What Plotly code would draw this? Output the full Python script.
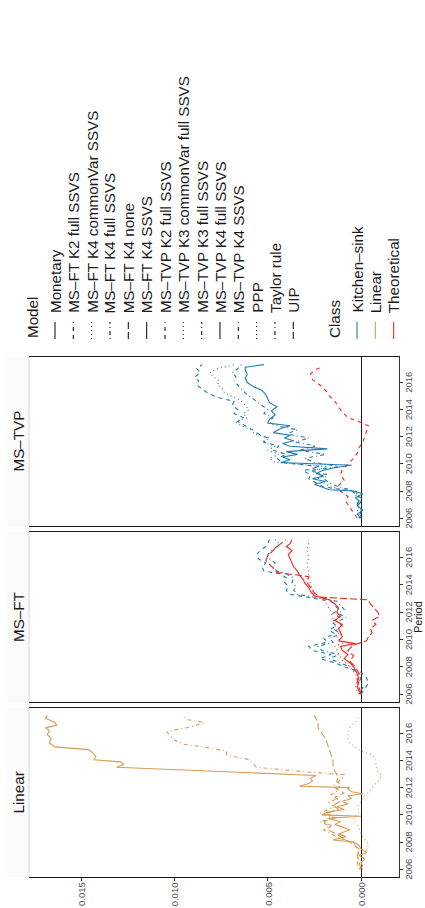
import plotly.graph_objects as go

# ---------------- data ----------------
# Linear panel (class: Linear)
LIN_MONETARY_T = [2006.0, 2006.25, 2006.5, 2006.75, 2007.0, 2007.25, 2007.5, 2007.75, 2008.0, 2008.15, 2008.4, 2008.6, 2008.9, 2009.1, 2009.3, 2009.5, 2009.75, 2009.9, 2010.0, 2010.2, 2010.4, 2010.6, 2010.8, 2011.0, 2011.2, 2011.4, 2011.55, 2011.7, 2011.9, 2012.0, 2012.1, 2012.3, 2012.5, 2012.7, 2012.9, 2013.5, 2013.7, 2013.9, 2014.05, 2014.3, 2014.6, 2014.8, 2015.0, 2015.3, 2015.6, 2015.9, 2016.2, 2016.4, 2016.6, 2016.8, 2017.1, 2017.3]
LIN_MONETARY_V = [0.0001, -0.0001, 0.0000, -0.0002, 0.0001, -0.0003, 0.0000, 0.0001, 0.0004, 0.0015, 0.0008, 0.0012, 0.0006, 0.0010, 0.0014, 0.0011, 0.0018, 0.0000, 0.0021, 0.0018, 0.0009, 0.0013, 0.0007, 0.0010, 0.0005, 0.0007, -0.0001, 0.0005, 0.0007, 0.0006, 0.0033, 0.0028, 0.0026, 0.0027, 0.0024, 0.0131, 0.0127, 0.0129, 0.0143, 0.0142, 0.0144, 0.0146, 0.0164, 0.0167, 0.0166, 0.0168, 0.0167, 0.0169, 0.0163, 0.0164, 0.0169, 0.0168]

LIN_TAYLOR_T = [2006.0, 2006.5, 2007.0, 2007.5, 2008.0, 2008.3, 2008.6, 2008.9, 2009.2, 2009.5, 2009.8, 2010.1, 2010.3, 2010.6, 2010.9, 2011.2, 2011.5, 2011.8, 2012.1, 2012.4, 2012.7, 2012.95, 2013.2, 2013.5, 2013.8, 2014.1, 2014.4, 2014.7, 2015.0, 2015.2, 2015.5, 2015.8, 2016.1, 2016.3, 2016.5, 2016.8, 2017.0, 2017.3]
LIN_TAYLOR_V = [0.0001, 0.0002, 0.0001, 0.0002, 0.0004, 0.0012, 0.0016, 0.0020, 0.0017, 0.0022, 0.0014, 0.0022, 0.0019, 0.0014, 0.0017, 0.0013, 0.0016, 0.0012, 0.0015, 0.0013, 0.0010, 0.0009, 0.0033, 0.0056, 0.0058, 0.0061, 0.0072, 0.0072, 0.0085, 0.0095, 0.0100, 0.0102, 0.0104, 0.0098, 0.0090, 0.0084, 0.0093, 0.0095]

LIN_UIP_T = [2006.0, 2006.5, 2007.0, 2007.5, 2008.0, 2008.3, 2008.6, 2008.9, 2009.2, 2009.5, 2009.8, 2010.1, 2010.4, 2010.7, 2011.0, 2011.3, 2011.6, 2011.9, 2012.2, 2012.5, 2012.8, 2013.2, 2013.6, 2014.0, 2014.4, 2014.8, 2015.2, 2015.6, 2016.0, 2016.4, 2016.8, 2017.3]
LIN_UIP_V = [0.0000, 0.0001, 0.0002, 0.0001, 0.0006, 0.0010, 0.0013, 0.0018, 0.0016, 0.0020, 0.0013, 0.0019, 0.0012, 0.0015, 0.0011, 0.0014, 0.0009, 0.0013, 0.0011, 0.0013, 0.0012, 0.0014, 0.0015, 0.0015, 0.0016, 0.0017, 0.0018, 0.0019, 0.0021, 0.0023, 0.0023, 0.0025]

LIN_PPP_T = [2006.0, 2006.5, 2007.0, 2007.5, 2007.8, 2008.2, 2008.6, 2009.0, 2009.4, 2009.8, 2010.2, 2010.6, 2011.0, 2011.4, 2011.8, 2012.2, 2012.6, 2012.9, 2013.2, 2013.6, 2014.0, 2014.4, 2014.7, 2015.0, 2015.3, 2015.6, 2016.0, 2016.4, 2016.8, 2017.3]
LIN_PPP_V = [-0.0001, 0.0000, -0.0002, -0.0003, -0.0004, -0.0002, 0.0000, 0.0001, 0.0003, 0.0004, 0.0001, 0.0002, 0.0000, -0.0002, -0.0005, -0.0007, -0.0010, -0.0011, -0.0009, -0.0008, -0.0008, -0.0006, 0.0000, 0.0003, 0.0006, 0.0007, 0.0007, 0.0006, 0.0003, 0.0001]

# MS-FT panel
FT_K2FULL_T = [2006.0, 2006.4, 2006.8, 2007.2, 2007.6, 2008.0, 2008.3, 2008.6, 2008.9, 2009.2, 2009.5, 2009.8, 2010.1, 2010.4, 2010.7, 2011.0, 2011.3, 2011.6, 2011.9, 2012.2, 2012.5, 2012.8, 2013.0, 2013.3, 2013.6, 2013.9, 2014.2, 2014.5, 2014.8, 2015.0, 2015.3, 2015.6, 2015.9, 2016.2, 2016.5, 2016.8, 2017.0, 2017.3]
FT_K2FULL_V = [0.0000, -0.0002, -0.0004, -0.0003, 0.0000, 0.0009, 0.0014, 0.0022, 0.0016, 0.0026, 0.0028, 0.0018, 0.0020, 0.0014, 0.0017, 0.0013, 0.0016, 0.0011, 0.0015, 0.0012, 0.0014, 0.0016, 0.0025, 0.0038, 0.0040, 0.0039, 0.0041, 0.0040, 0.0043, 0.0052, 0.0053, 0.0051, 0.0055, 0.0056, 0.0054, 0.0051, 0.0050, 0.0049]

FT_K4FULL_T = [2006.0, 2006.5, 2007.0, 2007.5, 2008.0, 2008.3, 2008.6, 2008.9, 2009.2, 2009.5, 2009.8, 2010.1, 2010.4, 2010.7, 2011.0, 2011.3, 2011.6, 2011.9, 2012.2, 2012.5, 2012.8, 2013.0, 2013.3, 2013.6, 2013.9, 2014.2, 2014.5, 2014.8, 2015.0, 2015.3, 2015.6, 2015.9, 2016.2, 2016.5, 2016.8, 2017.0, 2017.3]
FT_K4FULL_V = [0.0001, -0.0001, 0.0000, 0.0001, 0.0006, 0.0011, 0.0017, 0.0012, 0.0021, 0.0023, 0.0015, 0.0017, 0.0011, 0.0014, 0.0010, 0.0013, 0.0008, 0.0012, 0.0009, 0.0011, 0.0013, 0.0021, 0.0034, 0.0036, 0.0035, 0.0037, 0.0036, 0.0040, 0.0045, 0.0047, 0.0046, 0.0049, 0.0050, 0.0048, 0.0045, 0.0044, 0.0046]

FT_K4SSVS_T = [2006.0, 2006.5, 2007.0, 2007.5, 2008.0, 2008.3, 2008.6, 2008.9, 2009.2, 2009.5, 2009.7, 2009.9, 2010.2, 2010.5, 2010.8, 2011.1, 2011.4, 2011.7, 2012.0, 2012.3, 2012.6, 2012.9, 2013.2, 2013.5, 2013.8, 2014.1, 2014.4, 2014.7, 2015.0, 2015.3, 2015.6, 2015.9, 2016.2, 2016.5, 2016.8, 2017.0, 2017.3]
FT_K4SSVS_V = [0.0000, 0.0002, 0.0001, 0.0002, 0.0004, 0.0006, 0.0009, 0.0007, 0.0010, 0.0011, 0.0003, 0.0012, 0.0010, 0.0011, 0.0012, 0.0010, 0.0014, 0.0011, 0.0013, 0.0012, 0.0014, 0.0017, 0.0025, 0.0027, 0.0028, 0.0030, 0.0031, 0.0033, 0.0034, 0.0036, 0.0037, 0.0038, 0.0039, 0.0037, 0.0040, 0.0038, 0.0037]

FT_K4CV_T = [2006.0, 2006.5, 2007.0, 2007.5, 2008.0, 2008.5, 2009.0, 2009.5, 2009.8, 2010.1, 2010.5, 2011.0, 2011.5, 2012.0, 2012.5, 2012.9, 2013.2, 2013.6, 2014.0, 2014.5, 2015.0, 2015.5, 2016.0, 2016.5, 2017.0, 2017.3]
FT_K4CV_V = [0.0001, 0.0003, 0.0002, 0.0003, 0.0006, 0.0010, 0.0012, 0.0014, 0.0009, 0.0013, 0.0012, 0.0014, 0.0015, 0.0016, 0.0018, 0.0020, 0.0024, 0.0026, 0.0027, 0.0028, 0.0028, 0.0029, 0.0028, 0.0029, 0.0028, 0.0028]

FT_K4NONE_T = [2006.0, 2006.5, 2007.0, 2007.5, 2008.0, 2008.4, 2008.8, 2009.2, 2009.6, 2009.9, 2010.2, 2010.5, 2010.8, 2011.1, 2011.4, 2011.7, 2012.0, 2012.3, 2012.6, 2012.9, 2013.1, 2013.4, 2013.8, 2014.2, 2014.6, 2014.9, 2015.2, 2015.5, 2015.8, 2016.1, 2016.4, 2016.8, 2017.1, 2017.3]
FT_K4NONE_V = [0.0000, 0.0001, 0.0002, 0.0001, 0.0003, 0.0006, 0.0004, 0.0007, 0.0004, -0.0003, -0.0004, -0.0006, -0.0005, -0.0008, -0.0006, -0.0010, -0.0009, -0.0007, -0.0005, -0.0004, 0.0022, 0.0025, 0.0027, 0.0029, 0.0028, 0.0045, 0.0047, 0.0049, 0.0051, 0.0050, 0.0048, 0.0045, 0.0042, 0.0040]

# MS-TVP panel
TVP_K2FULL_T = [2006.0, 2006.5, 2007.0, 2007.5, 2008.0, 2008.3, 2008.6, 2008.9, 2009.2, 2009.5, 2009.8, 2010.1, 2010.4, 2010.7, 2011.0, 2011.3, 2011.6, 2011.9, 2012.2, 2012.5, 2012.8, 2013.1, 2013.4, 2013.7, 2014.0, 2014.3, 2014.6, 2014.9, 2015.2, 2015.5, 2015.8, 2016.1, 2016.4, 2016.7, 2017.0, 2017.3]
TVP_K2FULL_V = [0.0001, -0.0001, 0.0002, 0.0000, 0.0005, 0.0020, 0.0024, 0.0028, 0.0027, 0.0031, 0.0022, 0.0042, 0.0045, 0.0040, 0.0047, 0.0044, 0.0052, 0.0050, 0.0055, 0.0058, 0.0062, 0.0066, 0.0063, 0.0068, 0.0066, 0.0069, 0.0068, 0.0077, 0.0082, 0.0085, 0.0088, 0.0087, 0.0089, 0.0086, 0.0088, 0.0085]

TVP_K3CV_T = [2006.0, 2006.5, 2007.0, 2007.5, 2008.0, 2008.3, 2008.6, 2008.9, 2009.2, 2009.5, 2009.8, 2010.1, 2010.4, 2010.7, 2011.0, 2011.3, 2011.6, 2011.9, 2012.2, 2012.5, 2012.8, 2013.1, 2013.4, 2013.7, 2014.0, 2014.3, 2014.6, 2014.9, 2015.2, 2015.5, 2015.8, 2016.1, 2016.4, 2016.7, 2017.0, 2017.3]
TVP_K3CV_V = [0.0000, 0.0002, 0.0001, 0.0002, 0.0004, 0.0016, 0.0020, 0.0023, 0.0021, 0.0026, 0.0018, 0.0046, 0.0049, 0.0044, 0.0050, 0.0046, 0.0053, 0.0049, 0.0057, 0.0059, 0.0064, 0.0067, 0.0061, 0.0063, 0.0060, 0.0062, 0.0064, 0.0068, 0.0073, 0.0074, 0.0077, 0.0076, 0.0079, 0.0081, 0.0077, 0.0068]

TVP_K3FULL_T = [2006.0, 2006.5, 2007.0, 2007.5, 2008.0, 2008.3, 2008.6, 2008.9, 2009.2, 2009.5, 2009.8, 2010.1, 2010.4, 2010.7, 2011.0, 2011.3, 2011.6, 2011.9, 2012.2, 2012.5, 2012.8, 2013.1, 2013.4, 2013.7, 2014.0, 2014.3, 2014.6, 2014.9, 2015.2, 2015.5, 2015.8, 2016.1, 2016.4, 2016.7, 2017.0, 2017.3]
TVP_K3FULL_V = [0.0001, 0.0000, 0.0002, 0.0001, 0.0003, 0.0012, 0.0017, 0.0020, 0.0018, 0.0028, 0.0012, 0.0025, 0.0030, 0.0019, 0.0033, 0.0024, 0.0035, 0.0028, 0.0040, 0.0034, 0.0045, 0.0050, 0.0047, 0.0052, 0.0050, 0.0053, 0.0056, 0.0059, 0.0062, 0.0064, 0.0066, 0.0068, 0.0067, 0.0069, 0.0066, 0.0064]

TVP_K4FULL_T = [2006.0, 2006.3, 2006.6, 2006.9, 2007.2, 2007.5, 2007.8, 2008.0, 2008.1, 2008.3, 2008.5, 2008.7, 2008.9, 2009.1, 2009.3, 2009.5, 2009.7, 2009.9, 2010.1, 2010.3, 2010.5, 2010.7, 2010.9, 2011.1, 2011.3, 2011.5, 2011.7, 2011.9, 2012.1, 2012.3, 2012.6, 2012.8, 2013.0, 2013.3, 2013.6, 2013.9, 2014.2, 2014.5, 2014.8, 2015.1, 2015.4, 2015.7, 2016.0, 2016.3, 2016.6, 2016.9, 2017.1, 2017.3]
TVP_K4FULL_V = [0.0000, 0.0002, -0.0001, 0.0002, 0.0000, 0.0003, -0.0001, 0.0004, 0.0017, 0.0021, 0.0025, 0.0019, 0.0026, 0.0020, 0.0024, 0.0021, 0.0015, 0.0005, 0.0043, 0.0038, 0.0042, 0.0034, 0.0040, 0.0018, 0.0038, 0.0042, 0.0036, 0.0041, 0.0038, 0.0047, 0.0043, 0.0038, 0.0050, 0.0049, 0.0046, 0.0048, 0.0045, 0.0049, 0.0050, 0.0051, 0.0053, 0.0058, 0.0061, 0.0062, 0.0061, 0.0062, 0.0062, 0.0052]

TVP_K4SSVS_T = [2006.0, 2006.4, 2006.8, 2007.2, 2007.6, 2008.0, 2008.4, 2008.8, 2009.2, 2009.6, 2010.0, 2010.4, 2010.8, 2011.2, 2011.6, 2012.0, 2012.4, 2012.8, 2013.1, 2013.4, 2013.8, 2014.2, 2014.6, 2015.0, 2015.4, 2015.8, 2016.2, 2016.6, 2016.9, 2017.1]
TVP_K4SSVS_V = [0.0002, 0.0004, 0.0006, 0.0008, 0.0007, 0.0011, 0.0012, 0.0009, 0.0011, 0.0010, 0.0007, 0.0004, 0.0002, 0.0001, -0.0001, -0.0002, -0.0003, -0.0004, 0.0001, 0.0007, 0.0010, 0.0012, 0.0014, 0.0017, 0.0019, 0.0022, 0.0026, 0.0027, 0.0025, 0.0021]

PANELS = ["Linear", "MS–FT", "MS–TVP"]
MODELS = ["Monetary", "MS–FT K2 full SSVS", "MS–FT K4 commonVar SSVS", "MS–FT K4 full SSVS",
          "MS–FT K4 none", "MS–FT K4 SSVS", "MS–TVP K2 full SSVS", "MS–TVP K3 commonVar full SSVS",
          "MS–TVP K3 full SSVS", "MS–TVP K4 full SSVS", "MS–TVP K4 SSVS", "PPP", "Taylor rule", "UIP"]
MODEL_LINETYPES = ["solid", "dashed", "dotted", "dotdash", "longdash", "solid", "dashed", "dotted",
                   "dotdash", "solid", "dashed", "dotted", "dotdash", "longdash"]
CLASSES = ["Kitchen–sink", "Linear", "Theoretical"]
CLASS_COLORS = ["#2479AE", "#D89A52", "#F5261A"]

Y_TICKS = [0.0, 0.005, 0.010, 0.015]
Y_TICK_LABELS = ["0.000", "0.005", "0.010", "0.015"]
X_TICKS = [2006, 2008, 2010, 2012, 2014, 2016]
X_TICK_LABELS = ["2006", "2008", "2010", "2012", "2014", "2016"]

# series: (panel, model, class, t, v)
SERIES = [
    ("Linear", "Monetary", "Linear", LIN_MONETARY_T, LIN_MONETARY_V),
    ("Linear", "Taylor rule", "Linear", LIN_TAYLOR_T, LIN_TAYLOR_V),
    ("Linear", "UIP", "Linear", LIN_UIP_T, LIN_UIP_V),
    ("Linear", "PPP", "Linear", LIN_PPP_T, LIN_PPP_V),
    ("MS–FT", "MS–FT K2 full SSVS", "Kitchen–sink", FT_K2FULL_T, FT_K2FULL_V),
    ("MS–FT", "MS–FT K4 full SSVS", "Kitchen–sink", FT_K4FULL_T, FT_K4FULL_V),
    ("MS–FT", "MS–FT K4 SSVS", "Theoretical", FT_K4SSVS_T, FT_K4SSVS_V),
    ("MS–FT", "MS–FT K4 commonVar SSVS", "Theoretical", FT_K4CV_T, FT_K4CV_V),
    ("MS–FT", "MS–FT K4 none", "Theoretical", FT_K4NONE_T, FT_K4NONE_V),
    ("MS–TVP", "MS–TVP K2 full SSVS", "Kitchen–sink", TVP_K2FULL_T, TVP_K2FULL_V),
    ("MS–TVP", "MS–TVP K3 commonVar full SSVS", "Kitchen–sink", TVP_K3CV_T, TVP_K3CV_V),
    ("MS–TVP", "MS–TVP K3 full SSVS", "Kitchen–sink", TVP_K3FULL_T, TVP_K3FULL_V),
    ("MS–TVP", "MS–TVP K4 SSVS", "Theoretical", TVP_K4SSVS_T, TVP_K4SSVS_V),
    ("MS–TVP", "MS–TVP K4 full SSVS", "Kitchen–sink", TVP_K4FULL_T, TVP_K4FULL_V),
]

# ---------------- styling / layout helpers ----------------
W, H = 425, 908
FONT = "Liberation Sans, Arial, Helvetica, sans-serif"
DASH = {"solid": "solid", "dashed": "4px,4px", "dotted": "1px,3px",
        "dotdash": "1px,3px,4px,3px", "longdash": "7px,3px"}
LEG_FS = 15.2
TICK_FS = 9.5
TICK_COL = "#4D4D4D"


def px(x):
    return x / W


def py(y):
    return 1 - y / H


# panel pixel geometry (rotated layout: panels stacked, Linear at bottom)
PANEL_X = (29, 399)
PANEL_Y = {"Linear": (708, 877), "MS–FT": (532, 702), "MS–TVP": (357, 526)}
VAL_RANGE = [0.017786, -0.002036]   # reversed: values grow leftwards
PER_RANGE = [2005.43, 2017.86]

fig = go.Figure()
axis_id = {"Linear": "", "MS–FT": "2", "MS–TVP": "3"}

for panel, model, cls, t, v in SERIES:
    k = axis_id[panel]
    lt = MODEL_LINETYPES[MODELS.index(model)]
    col = CLASS_COLORS[CLASSES.index(cls)]
    fig.add_trace(go.Scatter(x=v, y=t, mode="lines", xaxis="x" + k, yaxis="y" + k,
                             line=dict(color=col, width=1.1, dash=DASH[lt]),
                             showlegend=False, hoverinfo="skip"))

layout = dict(width=W, height=H, margin=dict(l=0, r=0, t=0, b=0),
              paper_bgcolor="white", plot_bgcolor="white", showlegend=False,
              font=dict(family=FONT, color="#1a1a1a"))
shapes = []
annotations = []
for panel in PANELS:
    k = axis_id[panel]
    y0, y1 = PANEL_Y[panel]
    dom_y = [py(y1), py(y0)]
    bottom = panel == "Linear"
    layout["xaxis" + k] = dict(
        domain=[px(PANEL_X[0]), px(PANEL_X[1])], anchor="y" + k, range=VAL_RANGE,
        showgrid=False, zeroline=True, zerolinecolor="#1a1a1a", zerolinewidth=1,
        showline=True, mirror=True, linecolor="#1a1a1a", linewidth=1.2,
        tickvals=Y_TICKS if bottom else [], ticks="outside" if bottom else "",
        ticklen=3, tickcolor="#333333", showticklabels=False)
    layout["yaxis" + k] = dict(
        domain=dom_y, anchor="x" + k, side="right", range=PER_RANGE,
        showgrid=False, zeroline=False, showline=True, mirror=False,
        linecolor="#333333", linewidth=1.2, tickvals=X_TICKS, ticks="outside",
        ticklen=3, tickcolor="#333333", showticklabels=False)
    # year tick labels (rotated), positioned on the panel's period scale
    for tv, tl in zip(X_TICKS, X_TICK_LABELS):
        annotations.append(dict(text=tl, xref="paper", yref="y" + k, x=px(408.5), y=tv,
                                textangle=-90, showarrow=False, xanchor="center",
                                yanchor="middle", borderpad=0,
                                font=dict(size=TICK_FS, color=TICK_COL, family=FONT)))
    # strip
    shapes.append(dict(type="rect", xref="paper", yref="paper", x0=px(7), x1=px(29),
                       y0=dom_y[0], y1=dom_y[1], fillcolor="#FAFAFA", line=dict(width=0),
                       layer="below"))
    shapes.append(dict(type="line", xref="paper", yref="paper", x0=px(29), x1=px(29),
                       y0=dom_y[0], y1=dom_y[1], line=dict(color="#D9D9D9", width=1)))
    annotations.append(dict(text=panel, xref="paper", yref="paper", x=px(18),
                            y=(dom_y[0] + dom_y[1]) / 2, textangle=-90, showarrow=False,
                            xanchor="center", yanchor="middle",
                            font=dict(size=LEG_FS, color="#1a1a1a", family=FONT)))

# value tick labels (rotated) under the Linear panel, on the value scale
for tv, tl in zip(Y_TICKS, Y_TICK_LABELS):
    annotations.append(dict(text=tl, xref="x", yref="paper", x=tv, y=py(881),
                            textangle=-90, showarrow=False, xanchor="center",
                            yanchor="top", borderpad=0,
                            font=dict(size=TICK_FS, color=TICK_COL, family=FONT)))

# axis title
annotations.append(dict(text="Period", xref="paper", yref="paper", x=px(425), y=py(617),
                        textangle=-90, showarrow=False, xanchor="right", yanchor="middle",
                        borderpad=0, font=dict(size=11, color="#1a1a1a", family=FONT)))

# manual legend (rotated)
LEG_STEP = 18.33
annotations.append(dict(text="Model", xref="paper", yref="paper", x=px(32.5), y=py(339),
                        textangle=-90, showarrow=False, xanchor="center", yanchor="bottom",
                        borderpad=0, font=dict(size=LEG_FS, color="#1a1a1a", family=FONT)))
for i, (m, lt) in enumerate(zip(MODELS, MODEL_LINETYPES)):
    cx = 55 + LEG_STEP * i
    shapes.append(dict(type="line", xref="paper", yref="paper", x0=px(cx), x1=px(cx),
                       y0=py(339), y1=py(322), line=dict(color="#1a1a1a", width=1.1, dash=DASH[lt])))
    annotations.append(dict(text=m, xref="paper", yref="paper", x=px(cx), y=py(314),
                            textangle=-90, showarrow=False, xanchor="center", yanchor="bottom",
                            borderpad=0, font=dict(size=LEG_FS, color="#1a1a1a", family=FONT)))
annotations.append(dict(text="Class", xref="paper", yref="paper", x=px(334), y=py(339),
                        textangle=-90, showarrow=False, xanchor="center", yanchor="bottom",
                        borderpad=0, font=dict(size=LEG_FS, color="#1a1a1a", family=FONT)))
for i, (c, col) in enumerate(zip(CLASSES, CLASS_COLORS)):
    cx = 357 + LEG_STEP * i
    shapes.append(dict(type="line", xref="paper", yref="paper", x0=px(cx), x1=px(cx),
                       y0=py(339), y1=py(322), line=dict(color=col, width=1.1)))
    annotations.append(dict(text=c, xref="paper", yref="paper", x=px(cx), y=py(314),
                            textangle=-90, showarrow=False, xanchor="center", yanchor="bottom",
                            borderpad=0, font=dict(size=LEG_FS, color="#1a1a1a", family=FONT)))

layout["shapes"] = shapes
layout["annotations"] = annotations
fig.update_layout(**layout)
# remove the browser's default 8px page margin so the 425x908 figure fills the window exactly
fig.write_html("out.html", config={"displayModeBar": False},
               post_script="document.body.style.margin='0';document.body.style.overflow='hidden';")
